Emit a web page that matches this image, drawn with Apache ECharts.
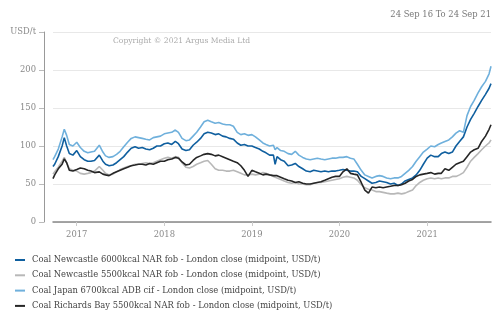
<!DOCTYPE html>
<html>
<head>
<meta charset="utf-8">
<script src="https://cdn.jsdelivr.net/npm/echarts@6/dist/echarts.min.js"></script>
<style>
  html, body { margin: 0; padding: 0; background: #fff; }
  #chart { width: 500px; height: 333px; }
</style>
</head>
<body>
<div id="chart"></div>
<script>
// Semi-monthly price observations, 24 Sep 2016 to 24 Sep 2021 (USD/t)
const dates = [
  '2016-09-24','2016-10-01','2016-10-16','2016-11-01','2016-11-10','2016-11-20','2016-12-01','2016-12-16',
  '2017-01-01','2017-01-16','2017-02-01','2017-02-16','2017-03-01','2017-03-16','2017-04-05','2017-04-20',
  '2017-05-01','2017-05-16','2017-06-01','2017-06-16','2017-07-01','2017-07-16','2017-08-01','2017-08-16',
  '2017-09-01','2017-09-16','2017-10-01','2017-10-16','2017-11-01','2017-11-16','2017-12-01','2017-12-16',
  '2018-01-01','2018-01-16','2018-02-01','2018-02-16','2018-03-01','2018-03-16','2018-04-01','2018-04-16',
  '2018-05-01','2018-05-16','2018-06-01','2018-06-16','2018-07-01','2018-07-16','2018-08-01','2018-08-16',
  '2018-09-01','2018-09-16','2018-10-01','2018-10-16','2018-11-01','2018-11-16','2018-12-01','2018-12-16',
  '2019-01-01','2019-01-16','2019-02-01','2019-02-16','2019-03-01','2019-03-16','2019-04-01','2019-04-08',
  '2019-04-16','2019-05-01','2019-05-16','2019-06-01','2019-06-16','2019-07-01','2019-07-16','2019-08-01',
  '2019-08-16','2019-09-01','2019-09-16','2019-10-01','2019-10-16','2019-11-01','2019-11-16','2019-12-01',
  '2019-12-16','2020-01-01','2020-01-16','2020-02-01','2020-02-16','2020-03-01','2020-03-16','2020-04-01',
  '2020-04-16','2020-05-01','2020-05-16','2020-06-01','2020-06-16','2020-07-01','2020-07-16','2020-08-01',
  '2020-08-16','2020-09-01','2020-09-16','2020-10-01','2020-10-16','2020-11-01','2020-11-16','2020-12-01',
  '2020-12-16','2021-01-01','2021-01-16','2021-02-01','2021-02-16','2021-03-01','2021-03-16','2021-04-01',
  '2021-04-16','2021-05-01','2021-05-16','2021-06-01','2021-06-16','2021-07-01','2021-07-16','2021-08-01',
  '2021-08-16','2021-09-01','2021-09-16','2021-09-24'
];

const newcastle6000 = [
  73,76,86,100,111,100,90,88,
  94,86,82,80,80,81,88,80,
  76,74,75,78,82,86,92,97,
  99,97,98,96,95,97,100,100,
  103,104,102,106,103,96,94,95,
  101,105,110,116,118,117,115,116,
  113,112,110,109,104,101,102,100,
  100,98,96,93,91,88,88,76,
  86,82,80,74,75,77,73,70,
  67,66,68,67,66,67,66,67,
  67,68,69,68,67,67,66,60,
  57,54,51,52,54,53,52,50,
  51,48,50,54,56,58,62,68,
  76,84,88,86,86,90,92,90,
  92,100,106,112,125,135,143,152,
  160,168,176,182
];

const newcastle5500 = [
  63,66,72,80,85,78,70,68,
  67,64,63,64,65,67,73,68,
  64,62,63,66,69,71,73,74,
  76,76,77,78,77,78,80,82,
  84,85,84,86,85,78,72,71,
  73,76,78,80,81,76,70,68,
  68,67,67,68,66,64,62,62,
  63,62,63,65,64,62,60,58,
  58,56,54,52,51,52,50,50,
  49,49,51,52,52,53,54,55,
  56,57,59,60,59,58,55,49,
  45,43,42,40,40,39,38,37,
  37,38,37,38,40,42,48,52,
  55,57,58,57,58,57,58,58,
  60,60,62,65,72,80,85,90,
  95,100,104,108
];

const japan6700 = [
  82,86,96,112,122,114,102,100,
  105,98,93,91,92,93,101,92,
  87,85,86,89,93,99,105,110,
  112,111,110,109,108,111,112,113,
  116,117,118,121,118,110,107,108,
  113,118,125,132,134,132,130,131,
  129,128,128,126,118,115,116,114,
  115,112,108,104,102,100,101,95,
  98,94,93,90,89,93,88,85,
  83,82,83,84,83,82,83,84,
  84,85,85,86,84,83,76,68,
  62,60,58,60,61,60,58,57,
  58,58,60,64,68,73,80,86,
  92,96,100,99,102,104,106,108,
  112,117,120,118,140,152,160,170,
  178,185,195,205
];

const richardsBay5500 = [
  57,62,70,76,83,78,68,67,
  69,71,70,68,67,65,66,63,
  62,61,64,66,68,70,72,74,
  75,76,76,75,77,76,78,80,
  80,82,83,85,84,79,75,76,
  81,85,87,89,90,89,87,88,
  86,84,82,80,78,74,68,60,
  68,66,64,62,63,62,61,60,
  61,59,57,55,54,52,53,51,
  50,50,51,52,53,55,57,59,
  60,60,66,70,64,63,62,52,
  42,38,46,45,46,45,46,47,
  48,48,49,51,54,56,60,62,
  63,64,65,63,64,64,70,68,
  72,76,78,80,86,92,95,97,
  106,113,122,128
];

const seriesNames = [
  'Coal Newcastle 6000kcal NAR fob - London close (midpoint, USD/t)',
  'Coal Newcastle 5500kcal NAR fob - London close (midpoint, USD/t)',
  'Coal Japan 6700kcal ADB cif - London close (midpoint, USD/t)',
  'Coal Richards Bay 5500kcal NAR fob - London close (midpoint, USD/t)'
];
const seriesColors = ['#0f5f9f', '#b8b8b8', '#6fb0dc', '#262626'];
const seriesValues = [newcastle6000, newcastle5500, japan6700, richardsBay5500];

const yTicks = [0, 50, 100, 150, 200, 250];
const dateRangeText = '24 Sep 16 To 24 Sep 21';
const copyrightText = 'Copyright \u00a9 2021 Argus Media Ltd';

const FONT = 'DejaVu Serif';
const DAY = 86400000;

const chart = echarts.init(document.getElementById('chart'), null, { renderer: 'canvas' });

chart.setOption({
  animation: false,
  backgroundColor: '#ffffff',
  title: [
    {
      text: dateRangeText, right: 9, top: 11, padding: 0,
      textStyle: { fontFamily: FONT, fontSize: 8.4, fontWeight: 'normal', color: '#777' }
    },
    {
      text: copyrightText, left: 113, top: 37, padding: 0,
      textStyle: { fontFamily: FONT, fontSize: 7.6, fontWeight: 'normal', color: '#aaa' }
    }
  ],
  legend: {
    orient: 'vertical', left: 15, top: 255, itemGap: 5.3, padding: 0,
    itemWidth: 10, itemHeight: 2, icon: 'rect',
    textStyle: { fontFamily: FONT, fontSize: 8.4, color: '#444', lineHeight: 10, padding: [0, 0, 0, 2] },
    data: seriesNames
  },
  grid: { left: 53, right: 9, top: 32, bottom: 111, containLabel: false },
  xAxis: {
    type: 'time',
    min: dates[0], max: dates[dates.length - 1],
    minInterval: 365 * DAY, maxInterval: 366 * DAY,
    axisLine: { show: true, lineStyle: { color: '#888', width: 1.5 } },
    axisTick: { show: true, length: 4, lineStyle: { color: '#ccc' } },
    splitLine: { show: false },
    axisLabel: {
      fontFamily: FONT, fontSize: 8.4, color: '#888', margin: 9,
      showMinLabel: false, showMaxLabel: false,
      formatter: v => String(new Date(v).getFullYear())
    }
  },
  yAxis: {
    type: 'value', min: yTicks[0], max: yTicks[yTicks.length - 1], interval: 50,
    offset: 9,
    axisLine: { show: true, lineStyle: { color: '#999', width: 1 } },
    axisTick: { show: true, length: 5, lineStyle: { color: '#bbb' } },
    splitLine: { show: true, lineStyle: { color: '#e8e8e8', width: 1 } },
    axisLabel: {
      fontFamily: FONT, fontSize: 8.4, color: '#888', margin: 8,
      formatter: v => (v === 250 ? 'USD/t' : String(v))
    }
  },
  series: seriesNames.map((name, i) => ({
    name, type: 'line', showSymbol: false, symbol: 'none',
    color: seriesColors[i],
    lineStyle: { width: 1.6, color: seriesColors[i] },
    data: dates.map((d, j) => [d, seriesValues[i][j]])
  }))
});
</script>
</body>
</html>
